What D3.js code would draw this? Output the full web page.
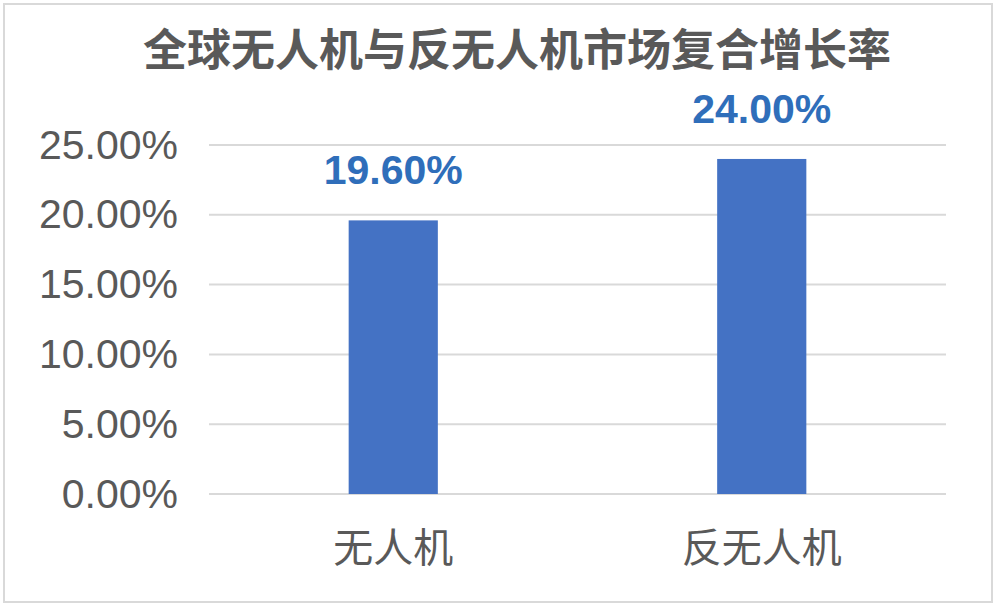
<!DOCTYPE html>
<html><head><meta charset="utf-8">
<script src="https://cdn.jsdelivr.net/npm/d3@7"></script>
<style>html,body{margin:0;padding:0;background:#fff;}svg{display:block;}</style>
</head><body>
<svg id="c" width="999" height="607"></svg>
<script>
const title = "全球无人机与反无人机市场复合增长率";
const categories = ["无人机", "反无人机"];
const values = [19.60, 24.00];
const yTicks = [0, 5, 10, 15, 20, 25];

const svg = d3.select("#c");
const latin = "'Liberation Sans', Arial, 'Noto Sans CJK SC', sans-serif";
const cjk = "'Noto Sans CJK SC', 'Liberation Sans', sans-serif";

svg.append("rect").attr("x", 4).attr("y", 4).attr("width", 988).attr("height", 598)
  .attr("fill", "#fff").attr("stroke", "#d9d9d9").attr("stroke-width", 2);

const x = d3.scaleBand().domain(categories).range([209, 946]).paddingInner(0.758).paddingOuter(0.379);
const y = d3.scaleLinear().domain([0, 25]).range([494, 145]);

// gridlines
svg.append("g").selectAll("line").data(yTicks).join("line")
  .attr("x1", 209).attr("x2", 946)
  .attr("y1", d => y(d)).attr("y2", d => y(d))
  .attr("stroke", "#d9d9d9").attr("stroke-width", 2);

// y axis labels
const yAxis = d3.axisLeft(y).tickValues(yTicks).tickSize(0).tickPadding(0)
  .tickFormat(d => d.toFixed(2) + "%");
const ga = svg.append("g").attr("transform", "translate(178,0)").call(yAxis);
ga.select(".domain").remove();
ga.selectAll("text").attr("font-family", latin).attr("font-size", 41)
  .attr("fill", "#595959").attr("dy", null).attr("y", 0)
  .attr("dominant-baseline", "auto")
  .attr("transform", "translate(0,13)");

// bars
svg.append("g").selectAll("rect").data(values).join("rect")
  .attr("x", (d, i) => x(categories[i])).attr("width", x.bandwidth())
  .attr("y", d => y(d)).attr("height", d => y(0) - y(d))
  .attr("fill", "#4472C4");

// data labels
svg.append("g").selectAll("text").data(values).join("text")
  .attr("x", (d, i) => x(categories[i]) + x.bandwidth() / 2)
  .attr("y", d => y(d) - 36)
  .attr("text-anchor", "middle")
  .attr("font-family", latin).attr("font-weight", "bold").attr("font-size", 41)
  .attr("fill", "#2F6EBA")
  .text(d => d.toFixed(2) + "%");

// category labels
svg.append("g").selectAll("text").data(categories).join("text")
  .attr("x", d => x(d) + x.bandwidth() / 2)
  .attr("y", 545)
  .attr("text-anchor", "middle").attr("dominant-baseline", "central")
  .attr("font-family", cjk).attr("font-size", 40).attr("fill", "#595959")
  .text(d => d);

// title
svg.append("text").attr("x", 517).attr("y", 47)
  .attr("text-anchor", "middle").attr("dominant-baseline", "central")
  .attr("font-family", cjk).attr("font-weight", "bold").attr("font-size", 44)
  .attr("fill", "#595959").text(title);
</script>
</body></html>
